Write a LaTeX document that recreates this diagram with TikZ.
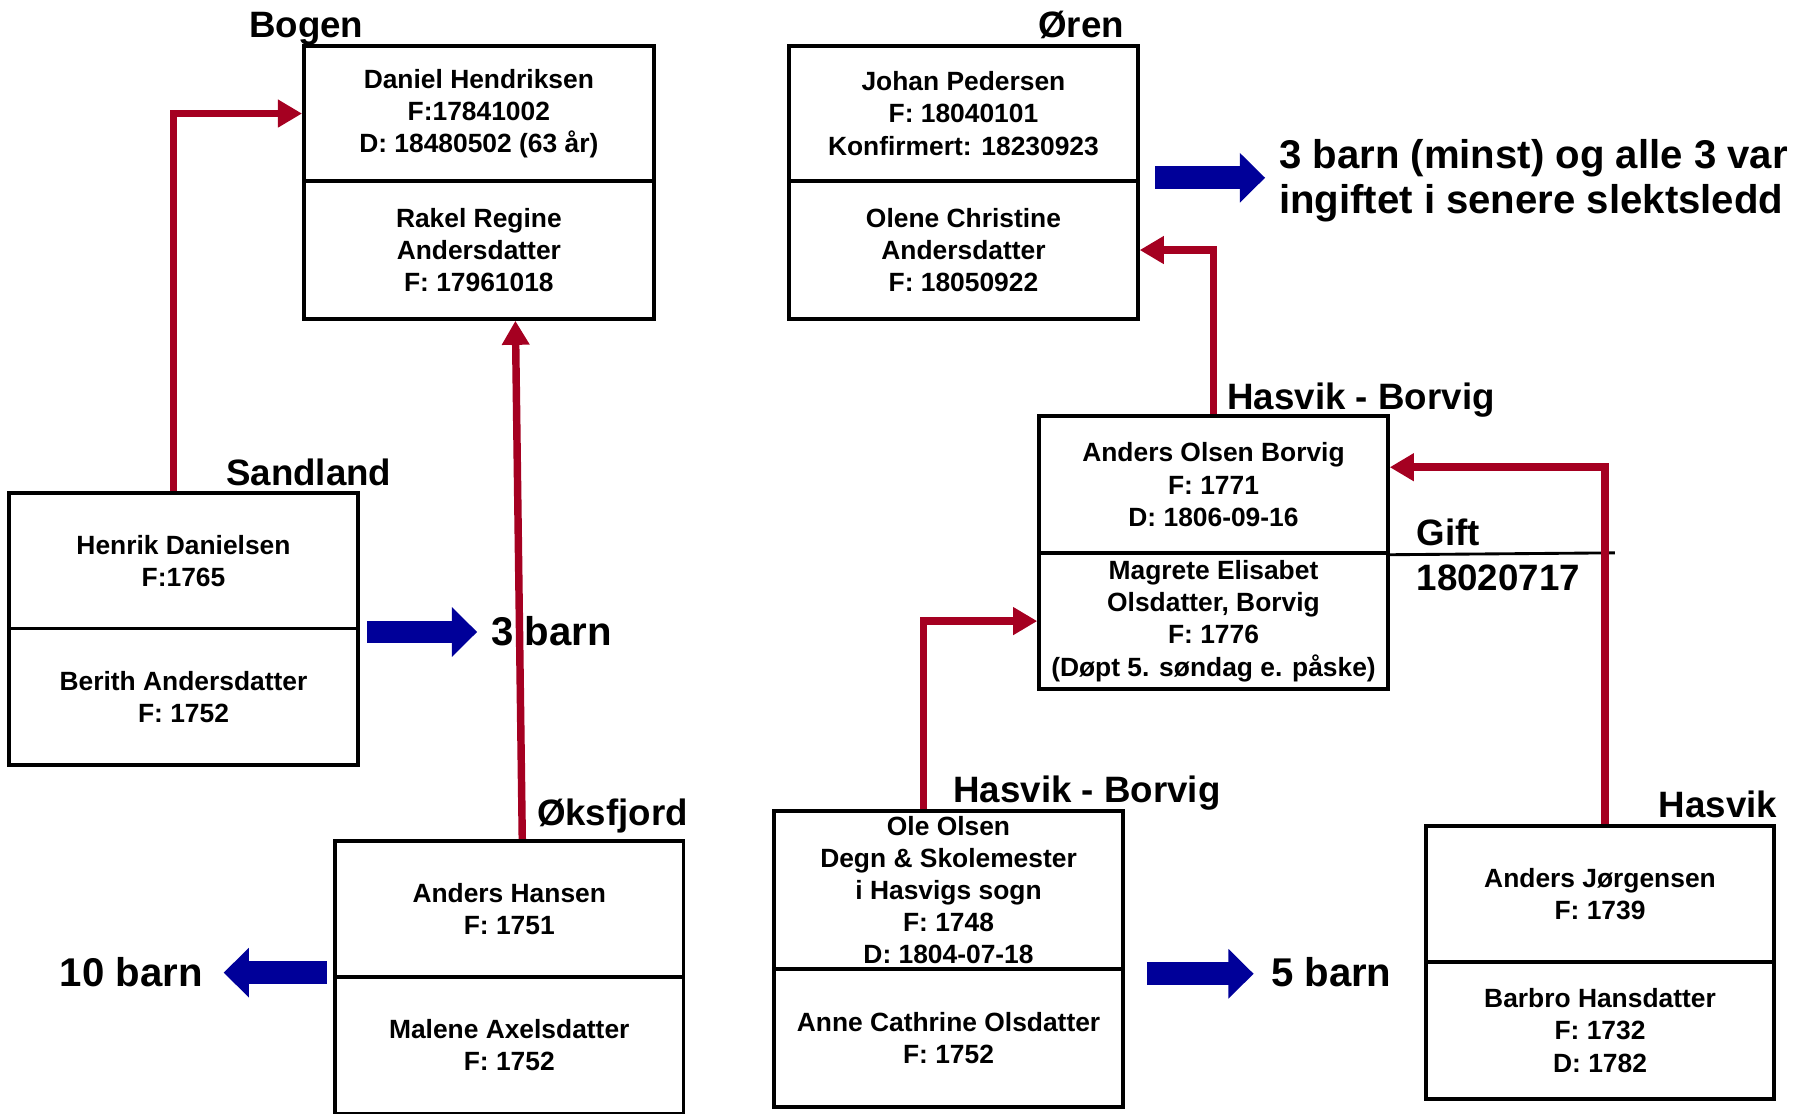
\documentclass[tikz,border=0pt]{standalone}
\usepackage{fontspec}
\setmainfont{Liberation Sans}
\usetikzlibrary{arrows.meta,calc}
\definecolor{redline}{HTML}{A50021}
\definecolor{bluearrow}{HTML}{000099}
\begin{document}
\begin{tikzpicture}[x=1pt,y=1pt,
  box/.style={draw, line width=3.3pt, minimum width=304pt, minimum height=118pt, align=center, inner sep=0pt, font=\fontsize{23}{28}\selectfont\bfseries},
  place/.style={anchor=base west, inner sep=0pt, font=\fontsize{32}{37}\selectfont\bfseries},
  big/.style={anchor=base west, inner sep=0pt, font=\fontsize{35}{39}\selectfont\bfseries},
  link/.style={draw=redline, line width=6.5pt, -{Triangle[length=21pt,width=23pt]}},
  fat/.style={draw=bluearrow, line width=20pt, -{Triangle[length=22pt,width=42pt]}}]
\useasboundingbox (0,0) rectangle (1565,-971);

% boxes
\node[box, minimum width=305pt] (daniel) at (417.5,-99) {Daniel Hendriksen\\F:17841002\\D: 18480502 (63 år)};
\node[box, minimum width=305pt, minimum height=120pt] (rakel) at (417.5,-218) {Rakel Regine\\Andersdatter\\F: 17961018};

\node[box] (johan) at (840,-99) {Johan Pedersen\\F: 18040101\\Konfirmert: 18230923};
\node[box, minimum height=120pt] (olene) at (840,-218) {Olene Christine\\Andersdatter\\F: 18050922};

\node[box] (henrik) at (160,-489) {Henrik Danielsen\\F:1765};
\node[box, minimum height=119pt] (berith) at (160,-607.5) {Berith Andersdatter\\F: 1752};

\node[box, minimum height=119pt] (anders) at (444,-792.5) {Anders Hansen\\F: 1751};
\node[box, minimum height=119pt] (malene) at (444,-911.5) {Malene Axelsdatter\\F: 1752};

\node[box, minimum height=119pt] (borvig) at (1058,-422.5) {Anders Olsen Borvig\\F: 1771\\D: 1806-09-16};
\node[box, minimum height=119pt] (magrete) at (1058,-541.5) {Magrete Elisabet\\Olsdatter, Borvig\\F: 1776\\(Døpt 5. søndag e. påske)};

\node[box, minimum height=138pt] (ole) at (827,-776) {Ole Olsen\\Degn \& Skolemester\\i Hasvigs sogn\\F: 1748\\D: 1804-07-18};
\node[box, minimum height=120pt] (anne) at (827,-905) {Anne Cathrine Olsdatter\\F: 1752};

\node[box, minimum height=119pt] (jorg) at (1395,-779.5) {Anders Jørgensen\\F: 1739};
\node[box, minimum height=119pt] (barbro) at (1395,-898.5) {Barbro Hansdatter\\F: 1732\\D: 1782};

% place labels
\node[place] (lbogen) at (217,-33) {Bogen};
\node[place] (loren) at (905,-33) {Øren};
\node[place] (lsand) at (197,-423) {Sandland};
\node[place] (loks) at (468,-720) {Øksfjord};
\node[place] (lhb1) at (1070,-357) {Hasvik - Borvig};
\node[place] (lhb2) at (831,-700) {Hasvik - Borvig};
\node[place] (lhas) at (1446,-713) {Hasvik};
\node[place] (lgift) at (1235,-476) {Gift};
\node[place] (ldate) at (1235,-515) {18020717};

% marriage line
\coordinate (giftend) at (1408,-482);
\draw[line width=2.5pt] (borvig.south east) -- (giftend);

% children notes
\node[big] (t3a) at (1115,-147) {3 barn (minst) og alle 3 var};
\node[big] (t3b) at (1115,-186) {ingiftet i senere slektsledd};
\node[big] (t3) at (428,-563) {3 barn};
\node[big] (t10) at (52,-860) {10 barn};
\node[big] (t5) at (1108,-860) {5 barn};

% blue arrows
\coordinate (b1s) at (1007,-155); \coordinate (b1e) at (1103,-155);
\coordinate (b2s) at (320,-551); \coordinate (b2e) at (416,-551);
\coordinate (b3s) at (285,-848); \coordinate (b3e) at (195,-848);
\coordinate (b4s) at (1000,-849); \coordinate (b4e) at (1093,-849);
\draw[fat] (b1s) -- (b1e);
\draw[fat] (b2s) -- (b2e);
\draw[fat] (b3s) -- (b3e);
\draw[fat] (b4s) -- (b4e);

% red links
\draw[link] ($(henrik.north west)+(145,0)$) |- (daniel.west);
\draw[link] ($(anders.north west)+(165,0)$) -- ($(rakel.south west)+(186,0)$);
\draw[link] (borvig.north) |- (olene.east);
\draw[link] ($(jorg.north west)+(158,0)$) |- ($(borvig.north east)+(0,-46)$);
\draw[link] ($(ole.north west)+(132,0)$) |- (magrete.west);
\end{tikzpicture}
\end{document}
